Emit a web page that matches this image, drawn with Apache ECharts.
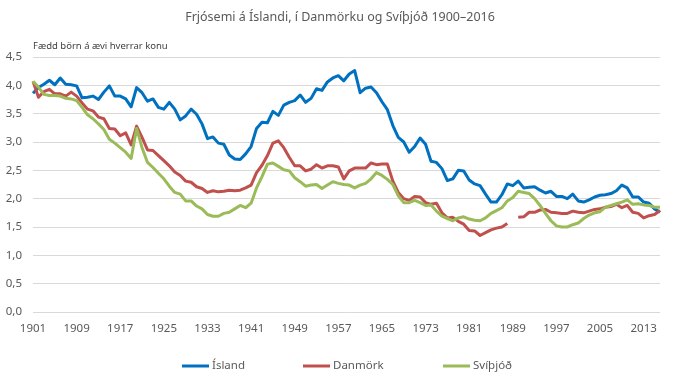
<!DOCTYPE html>
<html>
<head>
<meta charset="utf-8">
<script src="https://cdn.jsdelivr.net/npm/echarts@6/dist/echarts.min.js"></script>
<style>html,body{margin:0;padding:0;background:#fff}#c{width:680px;height:378px}</style>
</head>
<body>
<div id="c"></div>
<script>
var years = [1901,1902,1903,1904,1905,1906,1907,1908,1909,1910,1911,1912,1913,1914,1915,1916,1917,1918,1919,1920,
1921,1922,1923,1924,1925,1926,1927,1928,1929,1930,1931,1932,1933,1934,1935,1936,1937,1938,1939,1940,
1941,1942,1943,1944,1945,1946,1947,1948,1949,1950,1951,1952,1953,1954,1955,1956,1957,1958,1959,1960,
1961,1962,1963,1964,1965,1966,1967,1968,1969,1970,1971,1972,1973,1974,1975,1976,1977,1978,1979,1980,
1981,1982,1983,1984,1985,1986,1987,1988,1989,1990,1991,1992,1993,1994,1995,1996,1997,1998,1999,2000,
2001,2002,2003,2004,2005,2006,2007,2008,2009,2010,2011,2012,2013,2014,2015,2016];

var island = [3.86,3.96,4.02,4.09,4.01,4.13,4.02,4.01,3.99,3.78,3.79,3.81,3.75,3.88,3.99,3.81,3.81,3.76,3.62,3.96,
3.87,3.72,3.76,3.61,3.58,3.70,3.58,3.39,3.46,3.58,3.49,3.32,3.06,3.09,2.98,2.96,2.77,2.70,2.69,2.79,
2.92,3.24,3.35,3.34,3.54,3.47,3.65,3.70,3.73,3.83,3.70,3.77,3.94,3.91,4.06,4.13,4.17,4.08,4.20,4.26,
3.87,3.95,3.97,3.87,3.71,3.57,3.29,3.08,3.00,2.82,2.92,3.07,2.96,2.66,2.64,2.53,2.32,2.35,2.50,2.49,
2.33,2.26,2.23,2.08,1.94,1.94,2.07,2.26,2.23,2.31,2.19,2.20,2.21,2.15,2.10,2.13,2.04,2.04,2.00,2.08,
1.96,1.94,1.98,2.03,2.06,2.07,2.09,2.14,2.24,2.19,2.03,2.03,1.94,1.92,1.82,1.76];

var danmork = [4.07,3.79,3.89,3.93,3.85,3.85,3.81,3.88,3.81,3.69,3.58,3.55,3.44,3.41,3.24,3.23,3.11,3.16,2.95,3.28,
3.08,2.86,2.85,2.76,2.67,2.58,2.47,2.41,2.31,2.29,2.21,2.18,2.11,2.14,2.12,2.13,2.15,2.14,2.15,2.19,
2.24,2.46,2.59,2.76,2.98,3.02,2.90,2.73,2.58,2.58,2.49,2.52,2.60,2.54,2.58,2.58,2.56,2.35,2.49,2.54,
2.54,2.54,2.63,2.60,2.61,2.61,2.31,2.11,2.00,1.97,2.04,2.03,1.93,1.90,1.92,1.75,1.66,1.67,1.60,1.55,
1.44,1.43,1.35,1.40,1.45,1.48,1.50,1.56,null,1.67,1.68,1.76,1.76,1.80,1.81,1.76,1.75,1.74,1.74,1.78,
1.76,1.75,1.78,1.81,1.82,1.85,1.86,1.90,1.84,1.88,1.76,1.74,1.66,1.70,1.72,1.79];

var svithjod = [4.07,3.97,3.84,3.82,3.82,3.81,3.77,3.76,3.73,3.61,3.48,3.41,3.32,3.22,3.05,2.98,2.90,2.82,2.71,3.24,
2.90,2.64,2.55,2.45,2.35,2.22,2.11,2.08,1.96,1.96,1.87,1.82,1.72,1.69,1.69,1.74,1.76,1.82,1.88,1.84,
1.92,2.19,2.39,2.61,2.63,2.57,2.51,2.49,2.37,2.30,2.22,2.24,2.25,2.18,2.24,2.30,2.27,2.25,2.24,2.19,
2.24,2.27,2.35,2.46,2.41,2.34,2.25,2.05,1.93,1.93,1.97,1.93,1.88,1.89,1.78,1.69,1.65,1.61,1.66,1.68,
1.64,1.62,1.61,1.66,1.74,1.79,1.84,1.96,2.02,2.13,2.11,2.09,2.00,1.88,1.74,1.61,1.52,1.50,1.50,1.54,
1.57,1.65,1.71,1.75,1.77,1.85,1.88,1.91,1.94,1.98,1.90,1.91,1.89,1.88,1.85,1.85];

var seriesNames = ['Ísland','Danmörk','Svíþjóð'];
var colors = ['#0070C0','#C0504D','#9BBB59'];
var titleText = 'Frjósemi á Íslandi, í Danmörku og Svíþjóð 1900–2016';
var yAxisTitle = 'Fædd börn á ævi hverrar konu';

var FONT = '"Noto Sans", sans-serif';
var chart = echarts.init(document.getElementById('c'));
var legendLefts = [177, 298, 438];
var option = {
  animation: false,
  title: {
    text: titleText, left: 'center', top: 6,
    textStyle: {fontFamily: FONT, fontSize: 12.5, fontWeight: 'normal', color: '#595959'}
  },
  graphic: [{
    type: 'text', left: 33, top: 41,
    style: {text: yAxisTitle, fontFamily: FONT, fontSize: 9.5, fill: '#404040'}
  }],
  legend: seriesNames.map(function (n, i) {
    return {
      data: [n], left: legendLefts[i], top: 355,
      icon: 'rect', itemWidth: 27, itemHeight: 3, itemGap: 0,
      textStyle: {fontFamily: FONT, fontSize: 11.5, color: '#595959', padding: [0, 0, 0, -2]}
    };
  }),
  grid: {left: 33, right: 20, top: 57, bottom: 66, containLabel: false},
  xAxis: {
    type: 'category', data: years, boundaryGap: false,
    axisLine: {show: false}, axisTick: {show: false},
    axisLabel: {interval: 7, margin: 11, fontFamily: FONT, fontSize: 11.5, color: '#595959'},
    splitLine: {show: false}
  },
  yAxis: {
    type: 'value', min: 0, max: 4.5, interval: 0.5,
    axisLine: {show: false}, axisTick: {show: false},
    axisLabel: {margin: 11, fontFamily: FONT, fontSize: 11.5, color: '#595959',
      formatter: function (v) { return v.toFixed(1).replace('.', ','); }},
    splitLine: {lineStyle: {color: '#D9D9D9', width: 1}}
  },
  series: [island, danmork, svithjod].map(function (d, i) {
    return {
      name: seriesNames[i], type: 'line', data: d, showSymbol: false, symbol: 'none',
      connectNulls: false,
      lineStyle: {color: colors[i], width: 3, join: 'round'},
      itemStyle: {color: colors[i]}
    };
  })
};
chart.setOption(option);
</script>
</body>
</html>
